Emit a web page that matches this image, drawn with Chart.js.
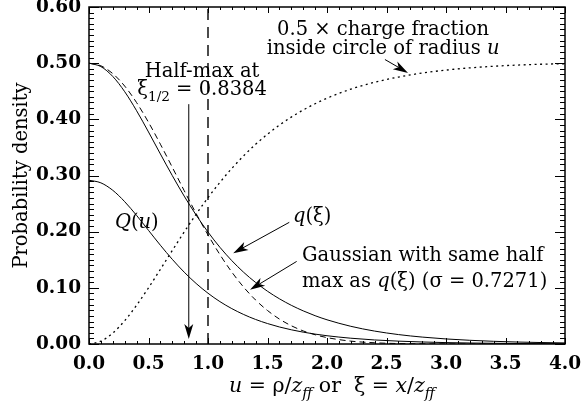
<!DOCTYPE html>
<html>
<head>
<meta charset="utf-8">
<script src="https://cdn.jsdelivr.net/npm/chart.js@4.4.1/dist/chart.umd.min.js"></script>
<style>
  html, body { margin: 0; padding: 0; background: #fff; }
  canvas { display: block; }
</style>
</head>
<body>
<canvas id="chart" width="587" height="404"></canvas>
<script>
// x positions (u or xi, in units of z_ff)
const xs = [0, 0.1, 0.2, 0.3, 0.4, 0.5, 0.6, 0.7, 0.8, 0.9, 1.0, 1.1, 1.2, 1.3, 1.4, 1.5, 1.6, 1.7, 1.8, 1.9, 2.0,
            2.2, 2.4, 2.6, 2.8, 3.0, 3.2, 3.4, 3.6, 3.8, 4.0];
// q(xi), solid
const qXi = [0.5000, 0.4939, 0.4763, 0.4492, 0.4153, 0.3775, 0.3383, 0.2998, 0.2633, 0.2297, 0.1993, 0.1722, 0.1484,
             0.1276, 0.1096, 0.0939, 0.0805, 0.0689, 0.0590, 0.0504, 0.0431,
             0.0315, 0.0230, 0.0168, 0.0123, 0.0090, 0.0066, 0.0048, 0.0035, 0.0026, 0.0019];
// gaussian with same half max, dashed
const gauss = [0.5000, 0.4953, 0.4814, 0.4592, 0.4298, 0.3947, 0.3557, 0.3146, 0.2730, 0.2324, 0.1942, 0.1592, 0.1281,
               0.1011, 0.0783, 0.0596, 0.0444, 0.0325, 0.0233, 0.0165, 0.0114,
               0.0051, 0.0022, 0.0008, 0.0003, 0.0001, 0, 0, 0, 0, 0];
// Q(u), solid
const Qu = [0.2916, 0.2869, 0.2736, 0.2534, 0.2289, 0.2023, 0.1758, 0.1507, 0.1279, 0.1078, 0.0904, 0.0755, 0.0630,
            0.0525, 0.0437, 0.0364, 0.0303, 0.0253, 0.0211, 0.0176, 0.0147,
            0.0103, 0.0072, 0.0051, 0.0036, 0.0025, 0.0018, 0.0013, 0.0009, 0.0006, 0.0005];
// 0.5 x charge fraction inside radius u, dotted
const halfFrac = [0, 0.0050, 0.0195, 0.0415, 0.0690, 0.1000, 0.1330, 0.1665, 0.1995, 0.2310, 0.2605, 0.2878, 0.3126,
                  0.3352, 0.3555, 0.3736, 0.3897, 0.4040, 0.4166, 0.4278, 0.4376,
                  0.4537, 0.4660, 0.4753, 0.4824, 0.4877, 0.4916, 0.4945, 0.4966, 0.4981, 0.4990];
const xiHalf = 0.8384;
const markerX = 1.0;

const xTicks = [0, 0.5, 1.0, 1.5, 2.0, 2.5, 3.0, 3.5, 4.0];
const yTicks = [0, 0.1, 0.2, 0.3, 0.4, 0.5, 0.6];

const FONT = "DejaVu Serif";
const TS = 19.5;

function pts(ys) {
    return xs.map((x, i) => ({x: x, y: ys[i]}));
}

function fontFor(s, size) {
    let sz = s.sub ? size * 0.7 : size;
    return (s.it ? "italic " : "") + sz + "px '" + FONT + "'";
}

function drawRich(ctx, segs, x, y, align, size) {
    let w = 0;
    segs.forEach(s => { ctx.font = fontFor(s, size); w += ctx.measureText(s.t).width; });
    let cx = align === "center" ? x - w / 2 : x;
    ctx.textAlign = "left";
    ctx.textBaseline = "alphabetic";
    segs.forEach(s => {
        ctx.font = fontFor(s, size);
        ctx.fillText(s.t, cx, y + (s.sub ? size * 0.3 : 0));
        cx += ctx.measureText(s.t).width;
    });
}

function arrow(ctx, x1, y1, x2, y2) {
    let ang = Math.atan2(y2 - y1, x2 - x1);
    let L = 15, W = 4.5, N = 4;
    ctx.beginPath();
    ctx.moveTo(x1, y1);
    ctx.lineTo(x2 - Math.cos(ang) * (L - N), y2 - Math.sin(ang) * (L - N));
    ctx.stroke();
    ctx.save();
    ctx.translate(x2, y2);
    ctx.rotate(ang);
    ctx.beginPath();
    ctx.moveTo(0, 0);
    ctx.lineTo(-L, -W);
    ctx.lineTo(-L + N, 0);
    ctx.lineTo(-L, W);
    ctx.closePath();
    ctx.fill();
    ctx.restore();
}

const decor = {
    id: "decor",
    afterDatasetsDraw(chart) {
        const ctx = chart.ctx;
        const a = chart.chartArea;
        const x = chart.scales.x, y = chart.scales.y;
        ctx.save();
        ctx.strokeStyle = "#000";
        ctx.fillStyle = "#000";

        // ticks inside on all four sides
        ctx.lineWidth = 1;
        ctx.beginPath();
        for (let i = 0; i <= 40; i++) {
            let px = Math.round(x.getPixelForValue(i / 10)) + 0.5;
            let len = i % 5 === 0 ? 6 : 3;
            ctx.moveTo(px, a.bottom); ctx.lineTo(px, a.bottom - len);
            ctx.moveTo(px, a.top); ctx.lineTo(px, a.top + len);
        }
        for (let i = 0; i <= 60; i++) {
            let py = Math.round(y.getPixelForValue(i / 100)) + 0.5;
            let len = i % 10 === 0 ? 10 : 5;
            ctx.moveTo(a.left, py); ctx.lineTo(a.left + len, py);
            ctx.moveTo(a.right, py); ctx.lineTo(a.right - len, py);
        }
        ctx.stroke();

        // frame
        ctx.lineWidth = 1.5;
        ctx.strokeRect(a.left, a.top, a.right - a.left, a.bottom - a.top);

        // arrows
        ctx.lineWidth = 1;
        arrow(ctx, x.getPixelForValue(xiHalf), y.getPixelForValue(0.427),
                   x.getPixelForValue(xiHalf), y.getPixelForValue(0.009));
        arrow(ctx, x.getPixelForValue(2.487), y.getPixelForValue(0.5065),
                   x.getPixelForValue(2.681), y.getPixelForValue(0.4827));
        arrow(ctx, x.getPixelForValue(1.683), y.getPixelForValue(0.2166),
                   x.getPixelForValue(1.212), y.getPixelForValue(0.1617));
        arrow(ctx, x.getPixelForValue(1.745), y.getPixelForValue(0.147),
                   x.getPixelForValue(1.353), y.getPixelForValue(0.0966));

        // labels
        let X = v => x.getPixelForValue(v), Y = v => y.getPixelForValue(v);
        drawRich(ctx, [{t: "0.5 \u00d7 charge fraction"}], X(2.471), Y(0.5504), "center", TS);
        drawRich(ctx, [{t: "inside circle of radius "}, {t: "u", it: true}], X(2.471), Y(0.516), "center", TS);
        drawRich(ctx, [{t: "Half-max at"}], X(0.95), Y(0.4756), "center", TS);
        drawRich(ctx, [{t: "\u03be"}, {t: "1/2", sub: true}, {t: " = 0.8384"}], X(0.95), Y(0.4436), "center", TS);
        drawRich(ctx, [{t: "Q", it: true}, {t: "("}, {t: "u", it: true}, {t: ")"}], X(0.218), Y(0.207), "left", TS);
        drawRich(ctx, [{t: "q", it: true}, {t: "(\u03be)"}], X(1.714), Y(0.2176), "left", TS);
        drawRich(ctx, [{t: "Gaussian with same half"}], X(1.79), Y(0.147), "left", TS);
        drawRich(ctx, [{t: "max as "}, {t: "q", it: true}, {t: "(\u03be) (\u03c3 = 0.7271)"}], X(1.79), Y(0.102), "left", TS);

        // axis titles
        drawRich(ctx, [{t: "u", it: true}, {t: " = \u03c1/"}, {t: "z", it: true}, {t: "ff", it: true, sub: true},
                       {t: " or  \u03be = "}, {t: "x", it: true}, {t: "/"}, {t: "z", it: true}, {t: "ff", it: true, sub: true}],
                 (a.left + a.right) / 2 + 5, 392, "center", 20.5);
        ctx.save();
        ctx.translate(27, (a.top + a.bottom) / 2);
        ctx.rotate(-Math.PI / 2);
        drawRich(ctx, [{t: "Probability density"}], 0, 0, "center", TS);
        ctx.restore();

        ctx.restore();
    }
};

const tickFont = {family: FONT, size: 18.5, weight: "bold"};

function noPad(s) {
    s.paddingLeft = 0; s.paddingRight = 0; s.paddingTop = 0; s.paddingBottom = 0;
}

new Chart(document.getElementById("chart"), {
    type: "line",
    data: {
        datasets: [
            {data: pts(qXi), borderColor: "#000", borderWidth: 1, cubicInterpolationMode: "monotone"},
            {data: pts(gauss), borderColor: "#000", borderWidth: 1, borderDash: [6, 4], cubicInterpolationMode: "monotone"},
            {data: pts(Qu), borderColor: "#000", borderWidth: 1, cubicInterpolationMode: "monotone"},
            {data: pts(halfFrac), borderColor: "#000", borderWidth: 1.3, borderDash: [2, 3.5], cubicInterpolationMode: "monotone"},
            {data: [{x: markerX, y: yTicks[0]}, {x: markerX, y: yTicks[yTicks.length - 1]}],
             borderColor: "#000", borderWidth: 1.4, borderDash: [11, 7]}
        ]
    },
    options: {
        responsive: false,
        animation: false,
        layout: {padding: {top: 7, right: 22, left: 0, bottom: 0}},
        elements: {point: {radius: 0}},
        plugins: {legend: {display: false}, tooltip: {enabled: false}},
        scales: {
            x: {
                type: "linear",
                min: xTicks[0], max: xTicks[xTicks.length - 1],
                afterBuildTicks: s => { s.ticks = xTicks.map(v => ({value: v})); },
                ticks: {callback: v => v.toFixed(1), font: tickFont, color: "#000", padding: 9, maxRotation: 0},
                grid: {display: false, drawTicks: false},
                border: {display: false},
                afterFit: s => { s.height = 60; noPad(s); }
            },
            y: {
                type: "linear",
                min: yTicks[0], max: yTicks[yTicks.length - 1],
                afterBuildTicks: s => { s.ticks = yTicks.map(v => ({value: v})); },
                ticks: {callback: v => v.toFixed(2), font: tickFont, color: "#000", padding: 8},
                grid: {display: false, drawTicks: false},
                border: {display: false},
                afterFit: s => { s.width = 89; noPad(s); }
            }
        }
    },
    plugins: [decor]
});
</script>
</body>
</html>
